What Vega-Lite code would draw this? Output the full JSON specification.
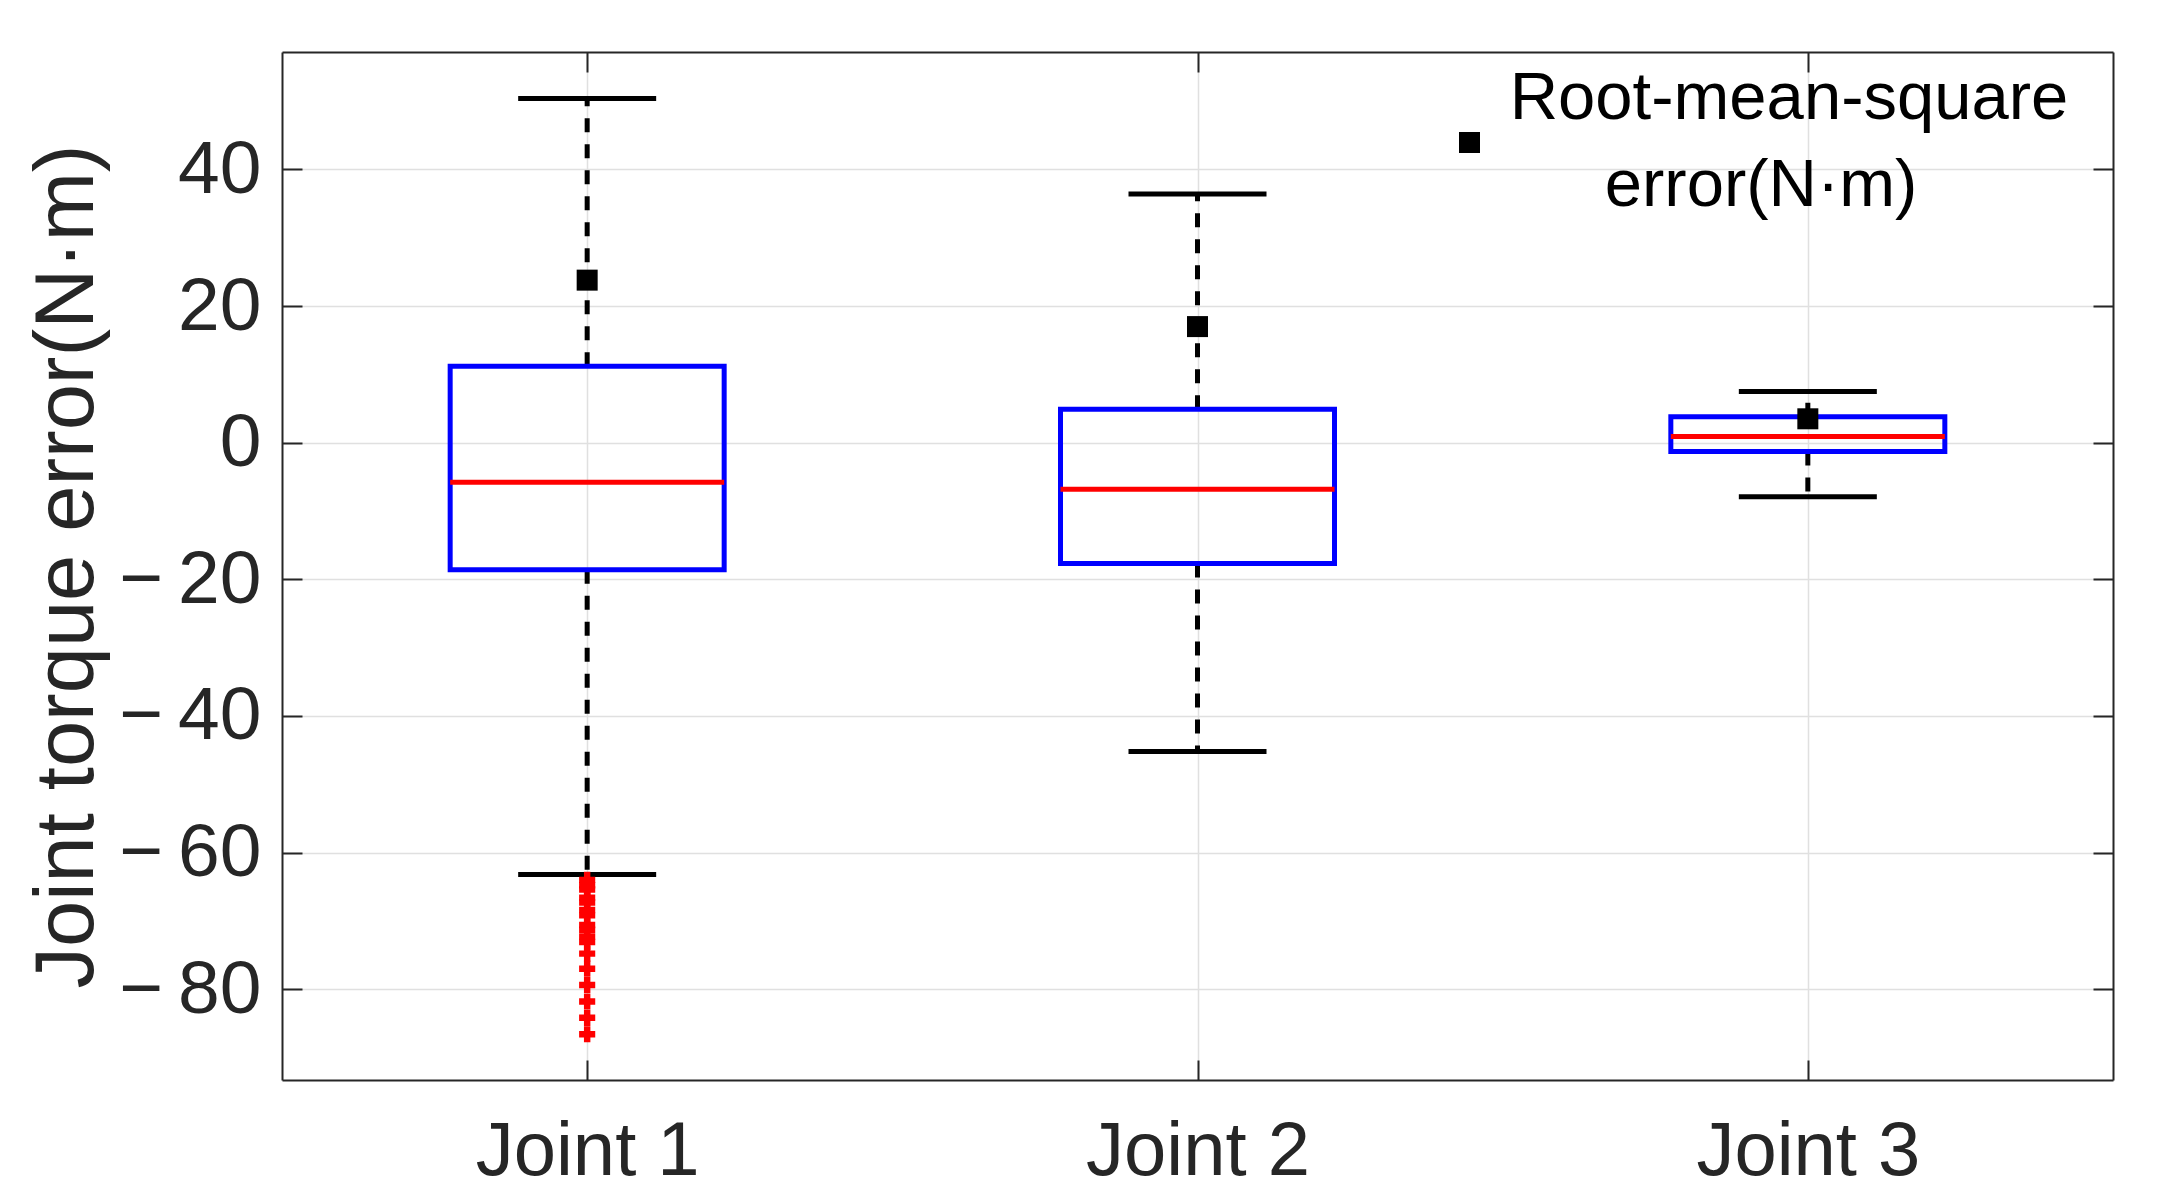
{
  "$schema": "https://vega.github.io/schema/vega-lite/v6.json",
  "width": 1831,
  "height": 1028,
  "autosize": {"type": "none"},
  "padding": {"left": 282, "top": 52, "right": 45, "bottom": 121},
  "background": "white",
  "config": {
    "view": {"stroke": null},
    "font": "Liberation Sans",
    "style": {"guide-label": {"lineHeight": 87}},
    "axis": {
      "domainColor": "#262626",
      "domainWidth": 2,
      "tickColor": "#262626",
      "tickWidth": 2,
      "tickSize": -20,
      "gridColor": "#E0E0E0",
      "gridWidth": 1.5,
      "labelColor": "#262626",
      "labelFont": "Liberation Sans",
      "labelLimit": 1000,
      "titleFont": "Liberation Sans",
      "titleColor": "#262626",
      "titleFontWeight": "normal"
    }
  },
  "datasets": {
    "stats": [
      {"joint": "Joint 1", "lower": -63.2, "q1": -18.6, "median": -5.8, "q3": 11.2, "upper": 50.4, "rms": 23.8, "series": "rms"},
      {"joint": "Joint 2", "lower": -45.2, "q1": -17.7, "median": -6.8, "q3": 4.9, "upper": 36.4, "rms": 17.0, "series": "rms"},
      {"joint": "Joint 3", "lower": -7.9, "q1": -1.3, "median": 0.9, "q3": 3.8, "upper": 7.5, "rms": 3.5, "series": "rms"}
    ],
    "outliers": [
      {"joint": "Joint 1", "value": -64.0},
      {"joint": "Joint 1", "value": -64.8},
      {"joint": "Joint 1", "value": -65.4},
      {"joint": "Joint 1", "value": -66.6},
      {"joint": "Joint 1", "value": -67.3},
      {"joint": "Joint 1", "value": -68.4},
      {"joint": "Joint 1", "value": -69.2},
      {"joint": "Joint 1", "value": -70.6},
      {"joint": "Joint 1", "value": -71.3},
      {"joint": "Joint 1", "value": -72.3},
      {"joint": "Joint 1", "value": -73.1},
      {"joint": "Joint 1", "value": -74.8},
      {"joint": "Joint 1", "value": -77.0},
      {"joint": "Joint 1", "value": -79.4},
      {"joint": "Joint 1", "value": -81.8},
      {"joint": "Joint 1", "value": -84.2},
      {"joint": "Joint 1", "value": -86.6}
    ]
  },
  "layer": [
    {
      "data": {"name": "stats"},
      "mark": {"type": "rule", "strokeDash": [14, 12], "strokeWidth": 5, "color": "black"},
      "encoding": {
        "x": {
          "field": "joint", "type": "nominal",
          "scale": {"type": "point", "padding": 0.5, "domain": ["Joint 1", "Joint 2", "Joint 3"]},
          "axis": {"orient": "bottom", "title": null, "grid": true, "labelFontSize": 76, "labelBaseline": "alphabetic", "labelPadding": 114, "labelAngle": 0, "labelLimit": 1000}
        },
        "y": {
          "field": "q3", "type": "quantitative",
          "scale": {"domain": [-93.3, 57.2], "nice": false, "zero": false},
          "axis": {
            "orient": "left",
            "values": [-80, -60, -40, -20, 0, 20, 40],
            "grid": true,
            "labelFontSize": 75,
            "labelPadding": 41,
            "labelExpr": "datum.value < 0 ? '\u2212\u2009' + abs(datum.value) : '' + datum.value",
            "title": "Joint torque error(N·m)",
            "titleFontSize": 83,
            "titleAngle": -90,
            "titleBaseline": "alphabetic",
            "titleAlign": "center",
            "titleX": -190,
            "titleY": 514
          }
        },
        "y2": {"field": "upper"}
      }
    },
    {
      "data": {"name": "stats"},
      "mark": {"type": "rule", "strokeDash": [14, 12], "strokeWidth": 5, "color": "black"},
      "encoding": {
        "x": {"field": "joint", "type": "nominal", "scale": {"type": "point", "padding": 0.5, "domain": ["Joint 1", "Joint 2", "Joint 3"]}, "axis": null},
        "y": {"field": "q1", "type": "quantitative", "scale": {"domain": [-93.3, 57.2], "nice": false, "zero": false}, "axis": null},
        "y2": {"field": "lower"}
      }
    },
    {
      "data": {"name": "stats"},
      "mark": {"type": "bar", "width": 274, "fill": "white", "fillOpacity": 0, "stroke": "#0000FF", "strokeWidth": 5},
      "encoding": {
        "x": {
          "field": "joint", "type": "nominal",
          "scale": {"type": "point", "padding": 0.5, "domain": ["Joint 1", "Joint 2", "Joint 3"]},
          "axis": {"orient": "top", "title": null, "labels": false, "grid": false}
        },
        "y": {
          "field": "q1", "type": "quantitative",
          "scale": {"domain": [-93.3, 57.2], "nice": false, "zero": false},
          "axis": {"orient": "right", "title": null, "labels": false, "grid": false, "values": [-80, -60, -40, -20, 0, 20, 40]}
        },
        "y2": {"field": "q3"}
      }
    },
    {
      "data": {"name": "stats"},
      "mark": {"type": "tick", "size": 274, "thickness": 5, "color": "#FF0000", "opacity": 1},
      "encoding": {
        "x": {"field": "joint", "type": "nominal", "scale": {"type": "point", "padding": 0.5, "domain": ["Joint 1", "Joint 2", "Joint 3"]}, "axis": null},
        "y": {"field": "median", "type": "quantitative", "scale": {"domain": [-93.3, 57.2], "nice": false, "zero": false}, "axis": null}
      }
    },
    {
      "data": {"name": "stats"},
      "mark": {"type": "tick", "size": 138, "thickness": 5, "color": "black", "opacity": 1},
      "encoding": {
        "x": {"field": "joint", "type": "nominal", "scale": {"type": "point", "padding": 0.5, "domain": ["Joint 1", "Joint 2", "Joint 3"]}, "axis": null},
        "y": {"field": "upper", "type": "quantitative", "scale": {"domain": [-93.3, 57.2], "nice": false, "zero": false}, "axis": null}
      }
    },
    {
      "data": {"name": "stats"},
      "mark": {"type": "tick", "size": 138, "thickness": 5, "color": "black", "opacity": 1},
      "encoding": {
        "x": {"field": "joint", "type": "nominal", "scale": {"type": "point", "padding": 0.5, "domain": ["Joint 1", "Joint 2", "Joint 3"]}, "axis": null},
        "y": {"field": "lower", "type": "quantitative", "scale": {"domain": [-93.3, 57.2], "nice": false, "zero": false}, "axis": null}
      }
    },
    {
      "data": {"name": "outliers"},
      "mark": {"type": "point", "shape": "cross", "filled": true, "color": "#FF0000", "size": 260, "opacity": 1},
      "encoding": {
        "x": {"field": "joint", "type": "nominal", "scale": {"type": "point", "padding": 0.5, "domain": ["Joint 1", "Joint 2", "Joint 3"]}, "axis": null},
        "y": {"field": "value", "type": "quantitative", "scale": {"domain": [-93.3, 57.2], "nice": false, "zero": false}, "axis": null}
      }
    },
    {
      "data": {"name": "stats"},
      "mark": {"type": "point", "filled": true, "color": "black", "size": 441, "opacity": 1},
      "encoding": {
        "x": {"field": "joint", "type": "nominal", "scale": {"type": "point", "padding": 0.5, "domain": ["Joint 1", "Joint 2", "Joint 3"]}, "axis": null},
        "y": {"field": "rms", "type": "quantitative", "scale": {"domain": [-93.3, 57.2], "nice": false, "zero": false}, "axis": null},
        "shape": {
          "field": "series", "type": "nominal",
          "scale": {"domain": ["rms"], "range": ["square"]},
          "legend": {
            "orient": "none",
            "legendX": 1154,
            "legendY": 57,
            "title": null,
            "padding": 0,
            "labelFontSize": 67,
            "labelFont": "Liberation Sans",
            "labelColor": "black",
            "labelAlign": "center",
            "labelBaseline": "line-bottom",
            "labelOffset": 286,
            "labelLimit": 3000,
            "labelExpr": "['Root-mean-square', 'error(N·m)\u00a0\u00a0\u00a0\u200b']",
            "symbolType": "square",
            "symbolSize": 441,
            "symbolFillColor": "black",
            "symbolStrokeColor": "black",
            "symbolStrokeWidth": 0,
            "symbolOpacity": 1,
            "encode": {"labels": {"enter": {"lineHeight": {"value": 87}}, "update": {"lineHeight": {"value": 87}}}}
          }
        }
      }
    }
  ],
  "resolve": {"axis": {"x": "independent", "y": "independent"}}
}
